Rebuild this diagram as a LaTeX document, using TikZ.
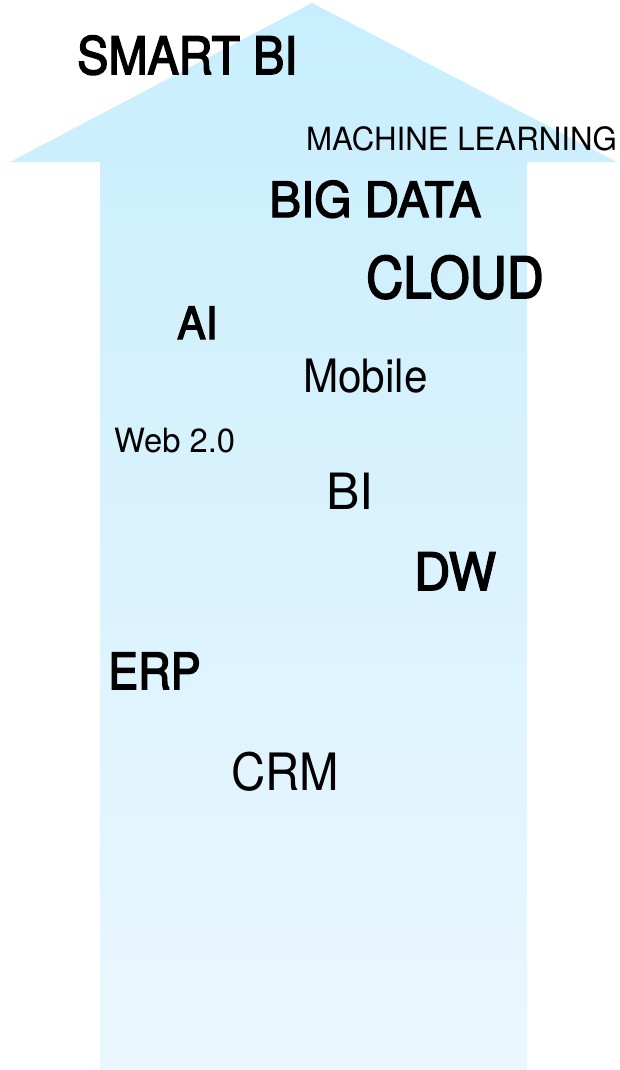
\documentclass[tikz,border=0pt]{standalone}
\usepackage{fontspec}
\setmainfont{TeX Gyre Heros}
\newfontface\mediumface{TeX Gyre Heros}[FakeBold=3]
\usepackage{graphicx}
\definecolor{arrowtop}{HTML}{C8EEFD}
\definecolor{arrowbottom}{HTML}{EBF7FE}
\newcommand{\tagtext}[3]{\fontsize{#1}{#1}\selectfont\scalebox{#2}[1]{#3}}
\tikzset{
  term/.style={anchor=base west, inner sep=0pt, text=black},
  heavy/.style={term, font=\mediumface},
  light/.style={term}
}
\begin{document}
\begin{tikzpicture}[x=1pt,y=-1pt]
  \useasboundingbox (0,0) rectangle (620,1070);
  % the big upward arrow
  \shade[top color=arrowtop, bottom color=arrowbottom]
    (100,1070) -- (100,162) -- (10,162) -- (312,3) -- (617,162)
    -- (527,162) -- (527,1070) -- cycle;
  % technology terms, top to bottom
  \node[heavy] (smartbi) at (77,74)  {\tagtext{51.5}{0.91}{SMART BI}};
  \node[light] (ml)      at (306,150) {\tagtext{32}{0.975}{MACHINE LEARNING}};
  \node[heavy] (bigdata) at (269,217) {\tagtext{48.7}{0.98}{BIG DATA}};
  \node[heavy] (cloud)   at (366,298) {\tagtext{57}{0.9}{CLOUD}};
  \node[heavy] (ai)      at (177,339) {\tagtext{44.6}{0.96}{AI}};
  \node[light] (mobile)  at (303,392) {\tagtext{46}{0.92}{Mobile}};
  \node[light] (web)     at (114,452) {\tagtext{33.4}{0.98}{Web 2.0}};
  \node[light] (bi)      at (326,509) {\tagtext{50}{1}{BI}};
  \node[heavy] (dw)      at (414,590) {\tagtext{51.5}{0.97}{DW}};
  \node[heavy] (erp)     at (108,689) {\tagtext{50}{0.9}{ERP}};
  \node[light] (crm)     at (231,790) {\tagtext{51.5}{0.92}{CRM}};
\end{tikzpicture}
\end{document}
